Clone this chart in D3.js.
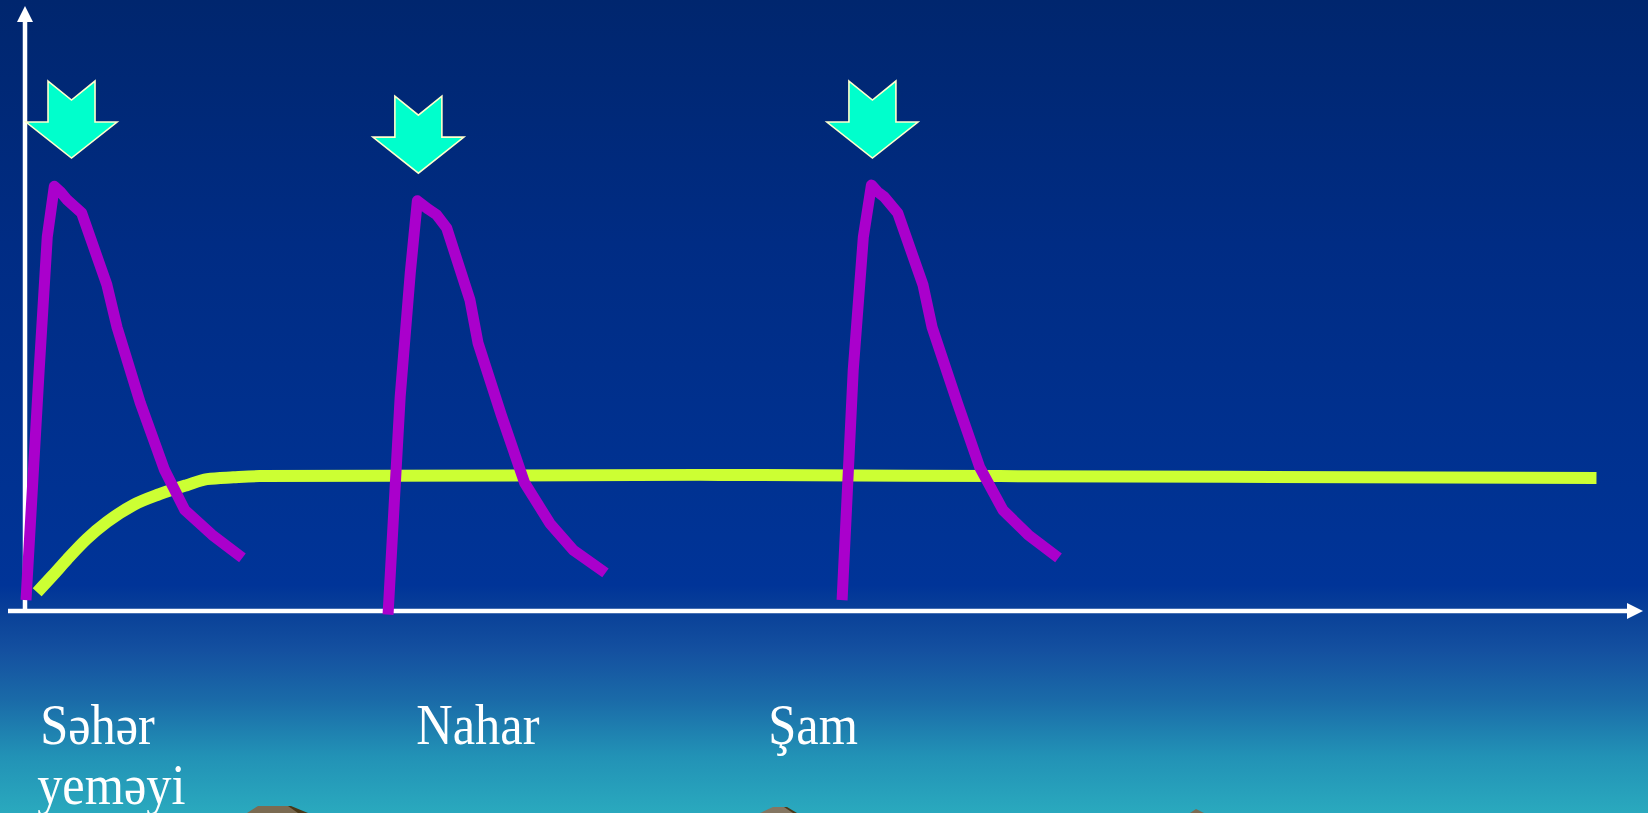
<!DOCTYPE html>
<html><head><meta charset="utf-8">
<script src="https://cdn.jsdelivr.net/npm/d3@7"></script>
<style>html,body{margin:0;padding:0;overflow:hidden;background:#00266E}</style>
</head><body>
<svg id="chart" width="1648" height="813"></svg>
<script>
// ---- data (time units along x, level 0..100 along y) ----
const mealNames   = [["Səhər", "yeməyi"], ["Nahar"], ["Şam"]];
const mealLabelX  = [1.5, 38.7, 73.5];
const arrowX      = [4.6, 38.9, 83.8];
const arrowY      = [87.6, 85.1, 87.6];

const breakfastT = [0.1, 1.4, 2.2, 2.9, 3.5, 4.2, 5.6, 8.1, 9.1, 11.4, 13.8, 15.8, 18.5, 21.5];
const breakfastV = [1.8, 39.8, 61.8, 70.2, 69.3, 67.9, 65.8, 53.9, 46.9, 34.4, 23.3, 16.7, 12.6, 8.8];
const lunchT     = [35.9, 37.1, 38.1, 38.8, 39.9, 40.7, 41.7, 44.0, 44.8, 47.1, 49.4, 51.9, 54.2, 57.4];
const lunchV     = [-0.6, 35.4, 55.9, 67.8, 66.4, 65.5, 63.3, 51.4, 44.3, 32.4, 21.2, 14.5, 10.1, 6.3];
const dinnerT    = [80.8, 81.9, 82.9, 83.7, 84.3, 85.0, 86.3, 88.8, 89.7, 92.2, 94.4, 96.7, 99.2, 102.2];
const dinnerV    = [1.8, 39.8, 61.8, 70.4, 69.3, 68.4, 65.8, 53.9, 46.9, 34.4, 23.8, 16.7, 12.6, 8.8];

const basalT = [1.2, 2.7, 4.2, 6.1, 8.1, 10.7, 13.3, 16.0, 18.0, 20.6, 23.2, 66.7, 96.4, 155.4];
const basalV = [3.1, 5.8, 8.6, 11.9, 14.7, 17.5, 19.3, 20.8, 21.8, 22.1, 22.3, 22.5, 22.3, 22.0];

// ---- drawing ----
const W = 1648, H = 813;
const svg = d3.select("#chart");
const x = d3.scaleLinear().domain([0, 160]).range([25, 1643]);
const y = d3.scaleLinear().domain([0, 100]).range([611, 6]);

// background gradient
const defs = svg.append("defs");
const grad = defs.append("linearGradient").attr("id", "bg")
  .attr("x1", 0).attr("y1", 0).attr("x2", 0).attr("y2", 1);
[[0, "#00266E"], [0.3, "#002C84"], [0.6, "#003292"], [0.72, "#003498"],
 [0.76, "#0B4399"], [0.8, "#1450A0"], [0.86, "#1A6AA8"], [0.93, "#2292B6"], [1, "#2AA9BE"]]
  .forEach(([o, c]) => grad.append("stop").attr("offset", o).attr("stop-color", c));
svg.append("rect").attr("width", W).attr("height", H).attr("fill", "url(#bg)");

// small decorative hill tops at the bottom edge
const deco = svg.append("g");
deco.append("path").attr("d", "M247,813 L258,806 L290,806 L300,813 Z").attr("fill", "#7B6B52");
deco.append("path").attr("d", "M288,806 L291,806 L308,813 L298,813 Z").attr("fill", "#4A3818");
deco.append("path").attr("d", "M760,813 L773,807 L786,807 L796,813 Z").attr("fill", "#847662");
deco.append("path").attr("d", "M784,807 L787,807 L797,813 L793,813 Z").attr("fill", "#4A3818");
deco.append("path").attr("d", "M1190,813 L1196,809 L1204,813 Z").attr("fill", "#7B6B52");

// axes
const ax = svg.append("g").attr("fill", "#fff");
ax.append("line").attr("x1", x(0)).attr("x2", x(0)).attr("y1", y(0) + 2).attr("y2", y(100) + 14)
  .attr("stroke", "#fff").attr("stroke-width", 4.5);
ax.append("path").attr("d", `M${x(0)},${y(100)} L${x(0) + 8},${y(100) + 16} L${x(0) - 8},${y(100) + 16} Z`);
ax.append("line").attr("x1", x(0) - 17).attr("x2", x(160) - 14).attr("y1", y(0)).attr("y2", y(0))
  .attr("stroke", "#fff").attr("stroke-width", 4.5);
ax.append("path").attr("d", `M${x(160)},${y(0)} L${x(160) - 16},${y(0) - 8} L${x(160) - 16},${y(0) + 8} Z`);

// basal (green) line
const smooth = d3.line().x(d => x(d[0])).y(d => y(d[1])).curve(d3.curveMonotoneX);
svg.append("path").datum(d3.zip(basalT, basalV)).attr("d", smooth)
  .attr("fill", "none").attr("stroke", "#CCFF33").attr("stroke-width", 12)
  .attr("stroke-linecap", "butt");

// bolus (purple) curves
const poly = d3.line().x(d => x(d[0])).y(d => y(d[1]));
[[breakfastT, breakfastV], [lunchT, lunchV], [dinnerT, dinnerV]].forEach(([t, v]) => {
  svg.append("path").datum(d3.zip(t, v)).attr("d", poly)
    .attr("fill", "none").attr("stroke", "#AA00CC").attr("stroke-width", 11)
    .attr("stroke-linejoin", "round").attr("stroke-linecap", "butt");
});

// meal arrows
svg.append("g").selectAll("path").data(d3.zip(arrowX, arrowY)).join("path")
  .attr("d", ([t, v]) => {
    const cx = x(t), ty = y(v);
    return `M${cx - 23.5},${ty} L${cx},${ty + 19} L${cx + 23.5},${ty} L${cx + 23.5},${ty + 41} ` +
           `L${cx + 45.5},${ty + 41} L${cx},${ty + 77} L${cx - 45.5},${ty + 41} L${cx - 23.5},${ty + 41} Z`;
  })
  .attr("fill", "#00FFCC").attr("stroke", "#FFFFCC").attr("stroke-width", 1.6)
  .attr("stroke-linejoin", "miter");

// meal labels
const lab = svg.append("g").attr("fill", "#fff")
  .attr("font-family", "'Liberation Serif', 'DejaVu Serif', serif").attr("font-size", 56);
mealNames.forEach((lines, i) => {
  lines.forEach((s, j) => {
    lab.append("text")
      .attr("transform", `translate(${x(mealLabelX[i]) - 3 * j},${744 + 60 * j}) scale(0.9,1)`)
      .text(s);
  });
});
</script>
</body></html>
